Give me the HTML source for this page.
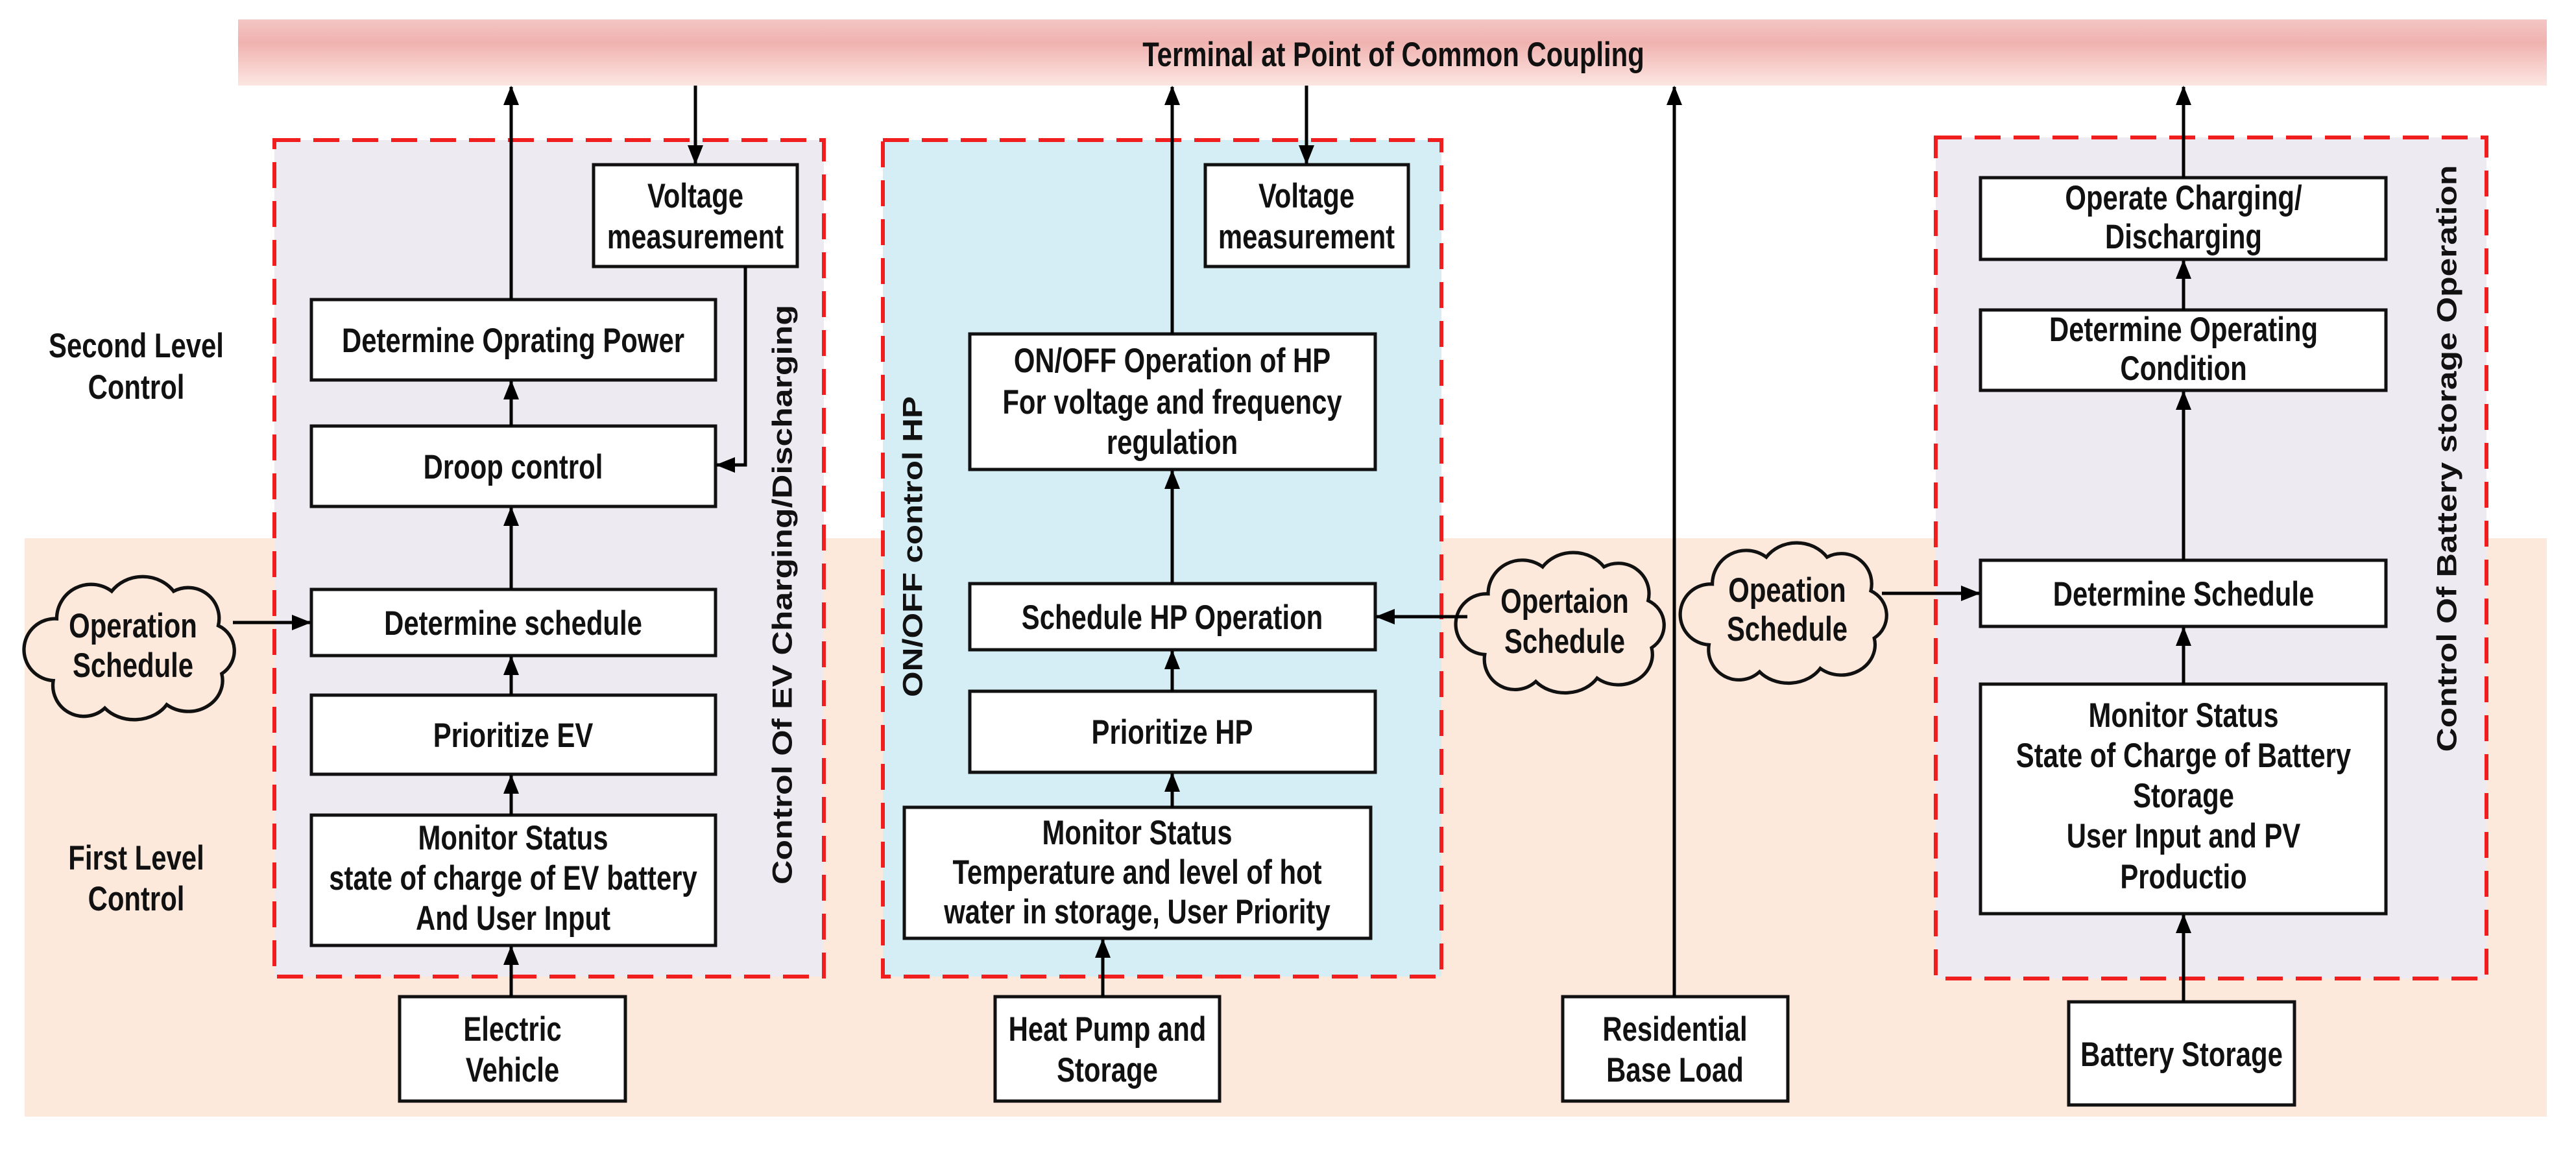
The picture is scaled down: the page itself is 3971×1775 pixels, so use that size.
<!DOCTYPE html>
<html><head><meta charset="utf-8"><style>
html,body{margin:0;padding:0;background:#fff}
svg{display:block}
text{font-family:"Liberation Sans",Arial,sans-serif;font-weight:bold;font-size:53px;fill:#111}
</style></head><body>
<svg width="3971" height="1775" viewBox="0 0 3971 1775" xmlns="http://www.w3.org/2000/svg">
<defs>
<linearGradient id="bus" x1="0" y1="0" x2="0" y2="1">
<stop offset="0" stop-color="#F3C6C4"/>
<stop offset="0.35" stop-color="#F0B2AF"/>
<stop offset="1" stop-color="#FCE6E2"/>
</linearGradient>
<marker id="ah" markerUnits="userSpaceOnUse" markerWidth="30" markerHeight="30" viewBox="0 0 30 30" refX="28" refY="15" orient="auto">
<path d="M0,3 L30,15 L0,27 Z" fill="#000"/>
</marker>
<path id="cloud" d="M40,70 A50,50 0 0 1 120,30 A55,50 0 0 1 210,30 A45,45 0 0 1 275,80 A40,40 0 0 1 280,150 A50,45 0 0 1 200,195 A55,45 0 0 1 110,200 A45,45 0 0 1 35,160 A40,40 0 0 1 40,70 Z"/>
</defs>

<rect x="38" y="830" width="3888" height="892" fill="#FDE9DC"/>
<rect x="367" y="30" width="3559" height="102" fill="url(#bus)"/>
<text transform="translate(2148,102) scale(.79,1)" text-anchor="middle">Terminal at Point of Common Coupling</text>

<text transform="translate(210,551) scale(.79,1)" text-anchor="middle">Second Level</text>
<text transform="translate(210,615) scale(.79,1)" text-anchor="middle">Control</text>
<text transform="translate(210,1341) scale(.79,1)" text-anchor="middle">First Level</text>
<text transform="translate(210,1404) scale(.79,1)" text-anchor="middle">Control</text>

<rect x="423" y="216" width="847" height="1290" fill="#EDEAF1" stroke="#F01E1E" stroke-width="6" stroke-dasharray="40,20"/>
<rect x="1361" y="216" width="861" height="1290" fill="#D5EDF4" stroke="#F01E1E" stroke-width="6" stroke-dasharray="40,20"/>
<rect x="2984" y="212" width="849" height="1297" fill="#EDEAF1" stroke="#F01E1E" stroke-width="6" stroke-dasharray="40,20"/>

<g fill="#fff" stroke="#111" stroke-width="5">
<rect x="915" y="254" width="314" height="157"/>
<rect x="480" y="462" width="623" height="124"/>
<rect x="480" y="657" width="623" height="124"/>
<rect x="480" y="909" width="623" height="102"/>
<rect x="480" y="1072" width="623" height="122"/>
<rect x="480" y="1257" width="623" height="201"/>
<rect x="616" y="1537" width="348" height="161"/>
<rect x="1858" y="254" width="313" height="157"/>
<rect x="1495" y="515" width="625" height="209"/>
<rect x="1495" y="900" width="625" height="102"/>
<rect x="1495" y="1066" width="625" height="125"/>
<rect x="1394" y="1245" width="719" height="202"/>
<rect x="1534" y="1537" width="346" height="161"/>
<rect x="2409" y="1537" width="347" height="161"/>
<rect x="3053" y="274" width="625" height="126"/>
<rect x="3053" y="478" width="625" height="124"/>
<rect x="3053" y="864" width="625" height="102"/>
<rect x="3053" y="1055" width="625" height="354"/>
<rect x="3189" y="1545" width="348" height="159"/>
</g>

<g fill="#FDE9DC" stroke="#111" stroke-width="5">
<use href="#cloud" transform="translate(45,880) scale(1.06,1.06)"/>
<use href="#cloud" transform="translate(2252,843) scale(1.05,1.04)"/>
<use href="#cloud" transform="translate(2598,828) scale(1.04,1.04)"/>
</g>

<g stroke="#000" stroke-width="5" fill="none" marker-end="url(#ah)">
<line x1="788" y1="462" x2="788" y2="134"/>
<line x1="788" y1="657" x2="788" y2="588"/>
<line x1="788" y1="909" x2="788" y2="783"/>
<line x1="788" y1="1072" x2="788" y2="1013"/>
<line x1="788" y1="1257" x2="788" y2="1196"/>
<line x1="788" y1="1537" x2="788" y2="1460"/>
<line x1="1072" y1="132" x2="1072" y2="252"/>
<polyline points="1149,411 1149,717 1105,717"/>
<line x1="359" y1="960" x2="478" y2="960"/>
<line x1="1807" y1="515" x2="1807" y2="134"/>
<line x1="1807" y1="900" x2="1807" y2="726"/>
<line x1="1807" y1="1066" x2="1807" y2="1004"/>
<line x1="1807" y1="1245" x2="1807" y2="1193"/>
<line x1="1700" y1="1537" x2="1700" y2="1449"/>
<line x1="2014" y1="132" x2="2014" y2="252"/>
<line x1="2262" y1="951" x2="2122" y2="951"/>
<line x1="2581" y1="1537" x2="2581" y2="134"/>
<line x1="3366" y1="274" x2="3366" y2="134"/>
<line x1="3366" y1="478" x2="3366" y2="402"/>
<line x1="3366" y1="864" x2="3366" y2="604"/>
<line x1="3366" y1="1055" x2="3366" y2="968"/>
<line x1="3366" y1="1545" x2="3366" y2="1411"/>
<line x1="2901" y1="915" x2="3051" y2="915"/>
</g>

<text transform="translate(1072,320) scale(.79,1)" text-anchor="middle">Voltage</text>
<text transform="translate(1072,383) scale(.79,1)" text-anchor="middle">measurement</text>
<text transform="translate(791,543) scale(.79,1)" text-anchor="middle">Determine Oprating Power</text>
<text transform="translate(791,738) scale(.79,1)" text-anchor="middle">Droop control</text>
<text transform="translate(791,979) scale(.79,1)" text-anchor="middle">Determine  schedule</text>
<text transform="translate(791,1152) scale(.79,1)" text-anchor="middle">Prioritize EV</text>
<text transform="translate(791,1310) scale(.79,1)" text-anchor="middle">Monitor Status</text>
<text transform="translate(791,1372) scale(.79,1)" text-anchor="middle">state of charge of EV battery</text>
<text transform="translate(791,1434) scale(.79,1)" text-anchor="middle">And User Input</text>
<text transform="translate(790,1605) scale(.79,1)" text-anchor="middle">Electric</text>
<text transform="translate(790,1668) scale(.79,1)" text-anchor="middle">Vehicle</text>
<text transform="translate(205,983) scale(.79,1)" text-anchor="middle">Operation</text>
<text transform="translate(205,1044) scale(.79,1)" text-anchor="middle">Schedule</text>
<text transform="translate(1206,917) rotate(-90) scale(1,.8)" y="18" text-anchor="middle" textLength="894" lengthAdjust="spacingAndGlyphs">Control Of EV Charging/Discharging</text>

<text transform="translate(2014,320) scale(.79,1)" text-anchor="middle">Voltage</text>
<text transform="translate(2014,383) scale(.79,1)" text-anchor="middle">measurement</text>
<text transform="translate(1807,574) scale(.79,1)" text-anchor="middle">ON/OFF Operation of HP</text>
<text transform="translate(1807,638) scale(.79,1)" text-anchor="middle">For voltage and frequency</text>
<text transform="translate(1807,700) scale(.79,1)" text-anchor="middle">regulation</text>
<text transform="translate(1807,970) scale(.79,1)" text-anchor="middle">Schedule HP Operation</text>
<text transform="translate(1807,1147) scale(.79,1)" text-anchor="middle">Prioritize HP</text>
<text transform="translate(1753,1302) scale(.79,1)" text-anchor="middle">Monitor Status</text>
<text transform="translate(1753,1363) scale(.79,1)" text-anchor="middle">Temperature and level of hot</text>
<text transform="translate(1753,1424) scale(.79,1)" text-anchor="middle">water in storage, User Priority</text>
<text transform="translate(1707,1605) scale(.79,1)" text-anchor="middle">Heat Pump and</text>
<text transform="translate(1707,1668) scale(.79,1)" text-anchor="middle">Storage</text>
<text transform="translate(2412,945) scale(.79,1)" text-anchor="middle">Opertaion</text>
<text transform="translate(2412,1007) scale(.79,1)" text-anchor="middle">Schedule</text>
<text transform="translate(1407,843) rotate(-90) scale(1,.8)" y="18" text-anchor="middle" textLength="464" lengthAdjust="spacingAndGlyphs">ON/OFF control HP</text>
<text transform="translate(2582,1605) scale(.79,1)" text-anchor="middle">Residential</text>
<text transform="translate(2582,1668) scale(.79,1)" text-anchor="middle">Base Load</text>

<text transform="translate(3366,323) scale(.79,1)" text-anchor="middle">Operate Charging/</text>
<text transform="translate(3366,383) scale(.79,1)" text-anchor="middle">Discharging</text>
<text transform="translate(3366,526) scale(.79,1)" text-anchor="middle">Determine Operating</text>
<text transform="translate(3366,586) scale(.79,1)" text-anchor="middle">Condition</text>
<text transform="translate(3366,934) scale(.79,1)" text-anchor="middle">Determine Schedule</text>
<text transform="translate(3366,1121) scale(.79,1)" text-anchor="middle">Monitor Status</text>
<text transform="translate(3366,1183) scale(.79,1)" text-anchor="middle">State of Charge of Battery</text>
<text transform="translate(3366,1245) scale(.79,1)" text-anchor="middle">Storage</text>
<text transform="translate(3366,1307) scale(.79,1)" text-anchor="middle">User Input  and PV</text>
<text transform="translate(3366,1370) scale(.79,1)" text-anchor="middle">Productio</text>
<text transform="translate(3363,1644) scale(.79,1)" text-anchor="middle">Battery Storage</text>
<text transform="translate(2755,928) scale(.79,1)" text-anchor="middle">Opeation</text>
<text transform="translate(2755,988) scale(.79,1)" text-anchor="middle">Schedule</text>
<text transform="translate(3772,707) rotate(-90) scale(1,.8)" y="18" text-anchor="middle" textLength="905" lengthAdjust="spacingAndGlyphs">Control Of Battery storage Operation</text>
</svg>
</body></html>
